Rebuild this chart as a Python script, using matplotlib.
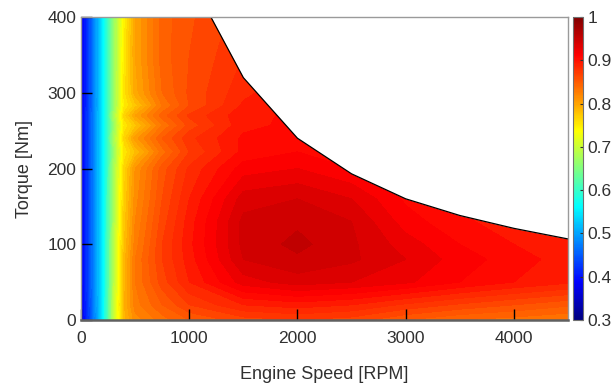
import numpy as np
import matplotlib
matplotlib.use('Agg')
import matplotlib.pyplot as plt
from matplotlib import cm, colors

plt.rcParams['font.family'] = ['Liberation Sans', 'DejaVu Sans']

# engine speed grid [RPM] and torque grid [Nm]
speed = [0, 100, 200, 300, 400, 500, 750, 1000, 1500, 2000, 2500, 3000, 3500, 4000, 4500]
torque = [0, 20, 50, 80, 100, 130, 160, 200, 222, 240, 257, 270, 283, 300, 350, 400]

# efficiency (rows = torque, cols = speed)
eff = [
    [0.37, 0.450, 0.55, 0.690, 0.785, 0.815, 0.835, 0.850, 0.865, 0.870, 0.865, 0.850, 0.840, 0.835, 0.830],
    [0.37, 0.455, 0.55, 0.690, 0.790, 0.825, 0.850, 0.870, 0.890, 0.895, 0.890, 0.878, 0.868, 0.860, 0.852],
    [0.375, 0.46, 0.55, 0.685, 0.785, 0.830, 0.865, 0.890, 0.925, 0.935, 0.930, 0.922, 0.910, 0.900, 0.892],
    [0.375, 0.46, 0.55, 0.685, 0.785, 0.830, 0.870, 0.895, 0.940, 0.948, 0.942, 0.930, 0.915, 0.905, 0.895],
    [0.375, 0.46, 0.55, 0.685, 0.780, 0.825, 0.870, 0.897, 0.943, 0.953, 0.942, 0.925, 0.910, 0.900, 0.892],
    [0.375, 0.46, 0.55, 0.675, 0.775, 0.820, 0.865, 0.895, 0.943, 0.948, 0.940, 0.915, 0.902, 0.895, 0.888],
    [0.375, 0.46, 0.55, 0.675, 0.770, 0.815, 0.860, 0.890, 0.935, 0.940, 0.930, 0.908, 0.898, 0.890, 0.888],
    [0.375, 0.46, 0.55, 0.670, 0.765, 0.810, 0.855, 0.882, 0.915, 0.920, 0.910, 0.900, 0.895, 0.890, 0.888],
    [0.375, 0.46, 0.548, 0.662, 0.752, 0.780, 0.835, 0.870, 0.903, 0.910, 0.902, 0.895, 0.890, 0.888, 0.886],
    [0.375, 0.46, 0.55, 0.670, 0.765, 0.805, 0.850, 0.877, 0.902, 0.907, 0.900, 0.895, 0.890, 0.888, 0.886],
    [0.375, 0.46, 0.548, 0.662, 0.752, 0.775, 0.830, 0.864, 0.897, 0.903, 0.900, 0.895, 0.890, 0.888, 0.886],
    [0.375, 0.46, 0.55, 0.670, 0.765, 0.800, 0.845, 0.872, 0.897, 0.902, 0.900, 0.895, 0.890, 0.888, 0.886],
    [0.370, 0.455, 0.548, 0.660, 0.750, 0.775, 0.830, 0.860, 0.892, 0.900, 0.900, 0.895, 0.890, 0.888, 0.886],
    [0.370, 0.455, 0.55, 0.660, 0.755, 0.795, 0.840, 0.862, 0.887, 0.900, 0.900, 0.895, 0.890, 0.888, 0.886],
    [0.370, 0.455, 0.55, 0.660, 0.750, 0.800, 0.845, 0.860, 0.880, 0.895, 0.895, 0.890, 0.888, 0.886, 0.886],
    [0.370, 0.455, 0.55, 0.660, 0.745, 0.800, 0.845, 0.858, 0.875, 0.890, 0.890, 0.888, 0.886, 0.886, 0.886],
]

# maximum torque curve
lim_speed = [1200, 1500, 2000, 2500, 3000, 3500, 4000, 4500]
lim_torque = [400, 320, 240, 193, 160, 138, 121, 107]

# MATLAB-style jet
jet = colors.LinearSegmentedColormap.from_list('mjet', [
    (0.0, (0, 0, 0.5)), (0.125, (0, 0, 1)), (0.375, (0, 1, 1)),
    (0.625, (1, 1, 0)), (0.875, (1, 0, 0)), (1.0, (0.5, 0, 0))])

S, T = np.meshgrid(speed, torque)
Z = np.array(eff)

fig = plt.figure(figsize=(6.16, 3.83), dpi=100)
ax = fig.add_axes([0.1315, 0.1645, 0.7906, 0.791])
cax = fig.add_axes([0.930, 0.1645, 0.016, 0.791])

levels = np.linspace(0.3, 1.0, 71)
ax.contourf(S, T, Z, levels=levels, cmap=jet, vmin=0.3, vmax=1.0)
ax.fill_between(lim_speed, lim_torque, 400, color='white', zorder=2, lw=0)
ax.plot(lim_speed, lim_torque, color='black', lw=0.9, zorder=3)

ax.set_xlim(0, 4500)
ax.set_ylim(0, 400)
ax.set_xticks([0, 1000, 2000, 3000, 4000])
ax.set_yticks([0, 100, 200, 300, 400])
ax.tick_params(direction='in', length=8, width=1.0, color='black',
               labelcolor='#303030', labelsize=12.5, top=False, right=False)
ax.tick_params(axis='x', pad=8)
for s in ax.spines.values():
    s.set_color('#9a9a9a')
    s.set_linewidth(1.0)
    s.set_zorder(5)
ax.spines['bottom'].set_color('#606060')
ax.spines['bottom'].set_linewidth(1.8)
ax.set_xlabel('Engine Speed [RPM]', fontsize=13, color='#303030', labelpad=14)
ax.set_ylabel('Torque [Nm]', fontsize=13, color='#303030', labelpad=10)

sm = cm.ScalarMappable(norm=colors.Normalize(0.3, 1.0), cmap=jet)
cb = fig.colorbar(sm, cax=cax)
cb.set_ticks([0.3, 0.4, 0.5, 0.6, 0.7, 0.8, 0.9, 1.0])
cb.set_ticklabels(['0.3', '0.4', '0.5', '0.6', '0.7', '0.8', '0.9', '1'])
cb.ax.tick_params(direction='in', length=2, labelsize=12.5, labelcolor='#303030', color='#303030')
cb.outline.set_edgecolor('#707070')
cb.outline.set_linewidth(0.8)

fig.savefig('out.png', dpi=100)
